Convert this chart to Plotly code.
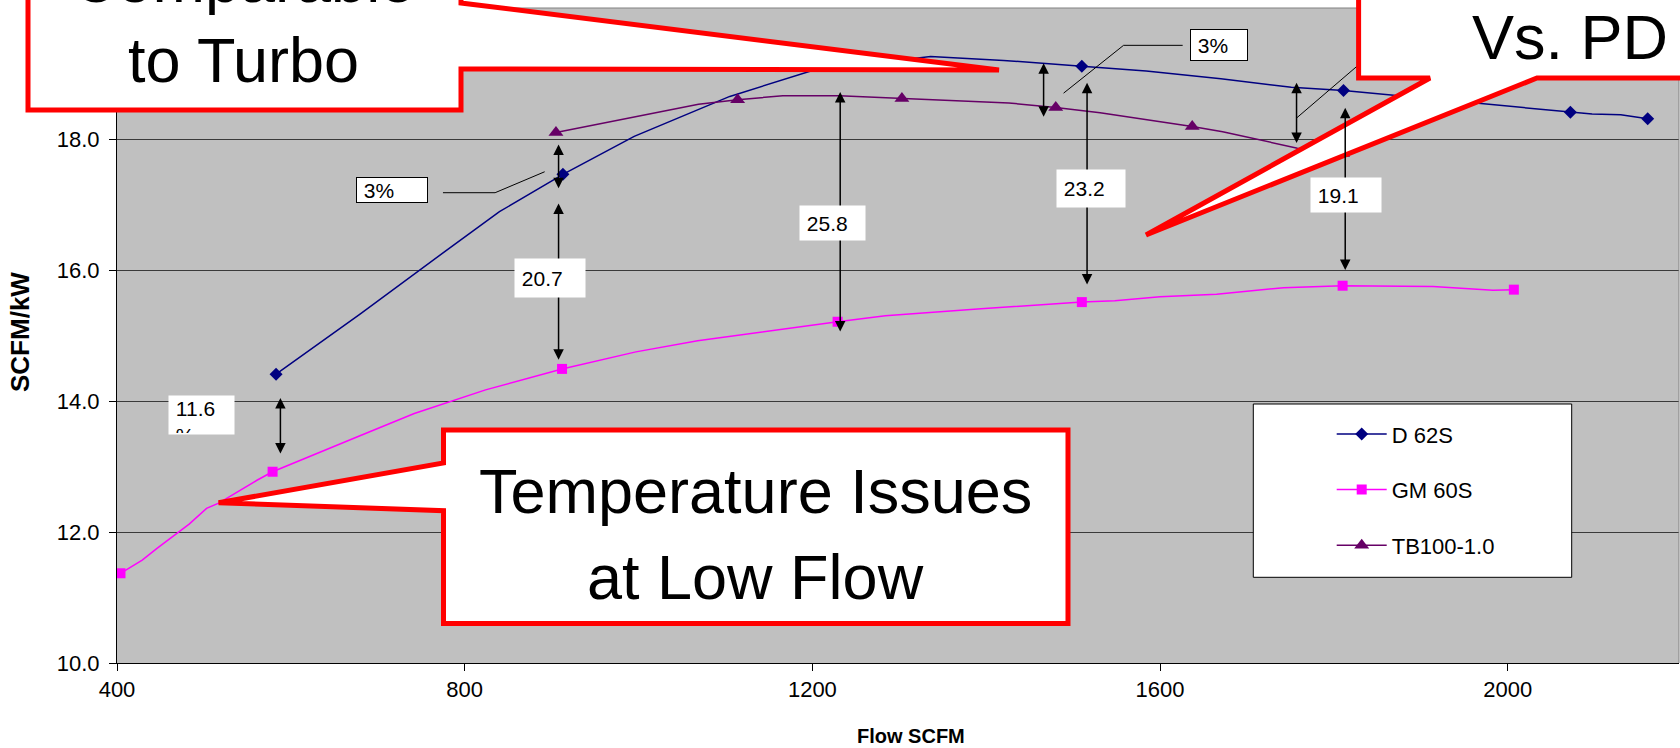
import plotly.graph_objects as go

# ---- data: specific flow (SCFM/kW) against flow (SCFM) ----
d62s_flow = [583, 680, 779, 840, 913, 995, 1105, 1201, 1336, 1420, 1510, 1584,
             1670, 1751, 1811, 1866, 1959, 2019, 2072, 2097, 2130, 2161]
d62s_eff = [14.41, 15.33, 16.30, 16.89, 17.46, 18.04, 18.65, 19.05, 19.26, 19.20,
            19.11, 19.04, 18.92, 18.79, 18.74, 18.67, 18.55, 18.47, 18.41, 18.38,
            18.37, 18.31]
d62s_marked = [0, 4, 10, 14, 18, 21]

gm60s_flow = [404, 429, 446, 483, 503, 517, 561, 579, 676, 742, 824, 912, 997,
              1068, 1229, 1284, 1394, 1510, 1548, 1600, 1665, 1742, 1810, 1914,
              1983, 2007]
gm60s_eff = [11.37, 11.57, 11.75, 12.12, 12.36, 12.44, 12.79, 12.92, 13.45, 13.81,
             14.17, 14.49, 14.75, 14.92, 15.21, 15.30, 15.41, 15.51, 15.53, 15.59,
             15.63, 15.73, 15.76, 15.75, 15.69, 15.70]
gm60s_marked = [0, 7, 11, 14, 17, 22, 25]

tb100_flow = [905, 1069, 1114, 1166, 1231, 1303, 1426, 1480, 1531, 1637, 1672,
              1758, 1810]
tb100_eff = [18.10, 18.53, 18.60, 18.66, 18.66, 18.62, 18.55, 18.48, 18.40, 18.19,
             18.11, 17.86, 17.78]
tb100_marked = [0, 2, 5, 7, 9, 12]

# gap (%) between D 62S and GM 60S, with the span of each double arrow
gap_labels = ["11.6", "20.7", "25.8", "23.2", "19.1"]
gap_flow = [588, 908, 1232, 1516, 1813]
gap_top = [14.07, 17.04, 18.74, 18.88, 18.50]
gap_bottom = [13.20, 14.63, 15.06, 15.78, 16.00]

# gap between TB100-1.0 and D 62S
pct_labels = ["3%", "3%"]
pct_flow = [908, 1466, 1757]
pct_top = [17.94, 19.18, 18.88]
pct_bottom = [17.25, 18.34, 17.94]
pct_leaders = [
    [(775, 17.18), (835, 17.18), (892, 17.50)],
    [(1489, 18.70), (1558, 19.43), (1626, 19.43)],
    [(1757, 18.32), (1830, 19.15)],
]

x_ticks = [400, 800, 1200, 1600, 2000]
y_ticks = [10.0, 12.0, 14.0, 16.0, 18.0]

# ---- page geometry ----
W, H = 1680, 748
ML, MR, MT, MB = 117, 1, 8, 85
PW, PH = W - ML - MR, H - MT - MB
FONT = "Liberation Sans, Arial, sans-serif"


def px(X):
    return (X - ML) / PW


def py(Y):
    return (H - MB - Y) / PH


def closed_path(points):
    return "M " + " L ".join(f"{px(x):.5f},{py(y):.5f}" for x, y in points) + " Z"


NAVY, MAGENTA, PURPLE = "#000080", "#FF00FF", "#660066"
series = [
    ("D 62S", d62s_flow, d62s_eff, d62s_marked, NAVY, "diamond", 10),
    ("GM 60S", gm60s_flow, gm60s_eff, gm60s_marked, MAGENTA, "square", 10),
    ("TB100-1.0", tb100_flow, tb100_eff, tb100_marked, PURPLE, "triangle-up", 13),
]

fig = go.Figure()
for name, xs, ys, marks, color, symbol, size in series:
    fig.add_trace(go.Scatter(x=xs, y=ys, mode="lines", showlegend=False,
                             line=dict(color=color, width=1.5), hoverinfo="skip"))
    fig.add_trace(go.Scatter(x=[xs[i] for i in marks], y=[ys[i] for i in marks],
                             mode="markers", showlegend=False, hoverinfo="skip",
                             marker=dict(color=color, symbol=symbol, size=size,
                                         line=dict(width=0))))
    # legend key
    fig.add_trace(go.Scatter(x=[None], y=[None], mode="lines+markers", name=name,
                             legendgroup=name,
                             line=dict(color=color, width=1.5),
                             marker=dict(color=color, symbol=symbol, size=size,
                                         line=dict(width=0))))

shapes = []
# leader lines from the "3%" notes
for pts in pct_leaders:
    shapes.append(dict(type="path", xref="x", yref="y",
                       path="M " + " L ".join(f"{x},{y}" for x, y in pts),
                       line=dict(color="black", width=1), layer="above"))

# top / right frame of the plotting area
shapes.append(dict(type="line", xref="paper", yref="paper", x0=0, x1=1, y0=1, y1=1,
                   line=dict(color="#808080", width=1), layer="above"))
shapes.append(dict(type="line", xref="paper", yref="paper", x0=1, x1=1, y0=0, y1=1,
                   line=dict(color="#808080", width=1), layer="above"))

# legend frame
shapes.append(dict(type="rect", xref="paper", yref="paper",
                   x0=px(1253.3), x1=px(1571.7), y0=py(577.3), y1=py(404),
                   line=dict(color="black", width=1), fillcolor="white", layer="above"))

# speech-bubble callouts
callouts = [
    [(28, -90), (28, 110), (461, 110), (461, 69), (999, 70), (461, 3), (461, -90)],
    [(1358.6, -90), (1358.6, 78), (1430, 78), (1146, 235), (1537, 78),
     (1780, 78), (1780, -90)],
    [(443.5, 430), (1068, 430), (1068, 623.5), (443.5, 623.5), (443.5, 510.7),
     (218.6, 502.7), (443.5, 463)],
]
for pts in callouts:
    shapes.append(dict(type="path", xref="paper", yref="paper", path=closed_path(pts),
                       line=dict(color="#FF0000", width=5), fillcolor="white",
                       layer="above"))

annotations = []
callout_text = [
    ("Comparable", 243, -20),
    ("to Turbo", 243, 60),
    ("Vs. PD", 1570, 37),
    ("Temperature Issues", 755, 491),
    ("at Low Flow", 755, 577),
]
for text, cx, cy in callout_text:
    annotations.append(dict(text=text, xref="paper", yref="paper", x=px(cx), y=py(cy),
                            xanchor="center", yanchor="middle", showarrow=False,
                            font=dict(family=FONT, size=63, color="black")))

# double-headed arrows
arrow_style = dict(xref="x", yref="y", axref="x", ayref="y", text="", showarrow=True,
                   arrowhead=2, startarrowhead=2, arrowside="end+start",
                   arrowsize=1.4, startarrowsize=1.4, arrowwidth=1.5,
                   arrowcolor="black", standoff=0, startstandoff=0)
for x, y0, y1 in zip(gap_flow + pct_flow, gap_top + pct_top, gap_bottom + pct_bottom):
    annotations.append(dict(x=x, y=y1, ax=x, ay=y0, **arrow_style))

# boxes holding the gap values
gap_boxes = [(201.5, 415, 65, 38), (550, 278, 70, 38), (832.5, 223, 65, 34),
             (1090.5, 188, 68, 37), (1346, 195, 70, 34)]
for i, (label, (cx, cy, bw, bh)) in enumerate(zip(gap_labels, gap_boxes)):
    two_line = i == 0
    annotations.append(dict(
        text="\u00a0" + label + ("<br>\u00a0%" if two_line else ""),
        xref="paper", yref="paper", x=px(cx), y=py(cy),
        xanchor="center", yanchor="middle", showarrow=False,
        width=bw - 2, height=bh - 2, borderpad=1, align="left",
        valign="top" if two_line else "middle",
        bgcolor="white", font=dict(family=FONT, size=21, color="black")))

pct_boxes = [(392, 189.5, 72, 26), (1219, 45, 58, 32)]
for label, (cx, cy, bw, bh) in zip(pct_labels, pct_boxes):
    annotations.append(dict(
        text="\u00a0" + label, xref="paper", yref="paper", x=px(cx), y=py(cy),
        xanchor="center", yanchor="middle", showarrow=False,
        width=bw - 4, height=bh - 4, borderpad=1, borderwidth=1,
        bordercolor="black", align="left", bgcolor="white",
        font=dict(family=FONT, size=21, color="black")))

# axis titles
annotations.append(dict(text="SCFM/kW", xref="paper", yref="paper", x=px(20), y=py(332),
                        textangle=-90, showarrow=False, xanchor="center", yanchor="middle",
                        font=dict(family=FONT, size=26, color="black", weight="bold")))
annotations.append(dict(text="Flow SCFM", xref="paper", yref="paper", x=px(911), y=py(736),
                        showarrow=False, xanchor="center", yanchor="middle",
                        font=dict(family=FONT, size=20, color="black", weight="bold")))

fig.update_layout(
    width=W, height=H,
    margin=dict(l=ML, r=MR, t=MT, b=MB, pad=0),
    paper_bgcolor="white", plot_bgcolor="#C0C0C0",
    font=dict(family=FONT, size=22, color="black"),
    showlegend=True,
    legend=dict(x=px(1331.7), xanchor="left", y=py(413.2), yanchor="top",
                bgcolor="rgba(0,0,0,0)", borderwidth=0, itemwidth=50,
                tracegroupgap=24, traceorder="grouped",
                font=dict(family=FONT, size=22, color="black")),
    xaxis=dict(range=[400, 2197], tickvals=x_ticks, ticktext=[str(v) for v in x_ticks],
               ticks="outside", ticklen=7, tickcolor="black", tickwidth=1,
               showgrid=False, zeroline=False, showline=True, linecolor="black",
               linewidth=1, tickfont=dict(family=FONT, size=22, color="black")),
    yaxis=dict(range=[10, 20], tickvals=y_ticks, ticktext=[f"{v:.1f}" for v in y_ticks],
               ticks="outside", ticklen=7, tickcolor="black", tickwidth=1,
               ticklabelstandoff=5,
               showgrid=True, gridcolor="#3a3a3a", gridwidth=1, zeroline=False,
               showline=True, linecolor="black", linewidth=1,
               tickfont=dict(family=FONT, size=22, color="black")),
    shapes=shapes, annotations=annotations,
    hovermode=False,
)

fig.write_html("out.html", config={"displayModeBar": False})
